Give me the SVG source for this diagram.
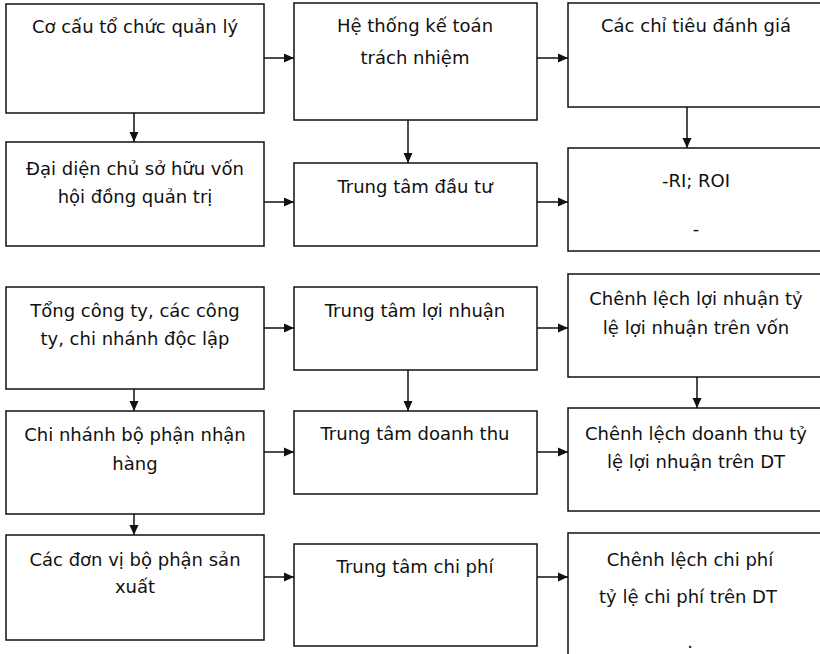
<svg xmlns="http://www.w3.org/2000/svg" width="820" height="654" viewBox="0 0 820 654">
<defs>
<style>
.box{fill:#fff;stroke:#111;stroke-width:1.5}
.t{font-family:"DejaVu Sans","Noto Sans",sans-serif;font-size:18px;fill:#111;text-anchor:middle}
.c{stroke:#111;stroke-width:1.5;fill:none;marker-end:url(#ah)}
</style>
<marker id="ah" markerUnits="userSpaceOnUse" markerWidth="10" markerHeight="10" viewBox="0 0 10 10" refX="10" refY="5" orient="auto">
<path d="M0,0.5 L10,5 L0,9.5 Z" fill="#111"/>
</marker>
</defs>
<rect width="820" height="654" fill="#fff"/>
<g id="connectors">
<line class="c" x1="264" y1="58" x2="294" y2="58"/>
<line class="c" x1="537" y1="58" x2="568" y2="58"/>
<line class="c" x1="264" y1="202" x2="294" y2="202"/>
<line class="c" x1="537" y1="202" x2="568" y2="202"/>
<line class="c" x1="264" y1="328" x2="294" y2="328"/>
<line class="c" x1="537" y1="328" x2="568" y2="328"/>
<line class="c" x1="264" y1="452" x2="294" y2="452"/>
<line class="c" x1="537" y1="452" x2="568" y2="452"/>
<line class="c" x1="264" y1="577" x2="294" y2="577"/>
<line class="c" x1="537" y1="577" x2="568" y2="577"/>
<line class="c" x1="134" y1="100" x2="134" y2="142"/>
<line class="c" x1="408" y1="120" x2="408" y2="163"/>
<line class="c" x1="687" y1="102" x2="687" y2="148"/>
<line class="c" x1="134" y1="370" x2="134" y2="411"/>
<line class="c" x1="134" y1="493" x2="134" y2="535"/>
<line class="c" x1="408" y1="370" x2="408" y2="411"/>
<line class="c" x1="697" y1="369" x2="697" y2="408"/>
</g>
<g id="n1"><rect class="box" x="6" y="4" width="258" height="109"/>
<text class="t" x="135" y="33">Cơ cấu tổ chức quản lý</text></g>
<g id="n2"><rect class="box" x="294" y="3" width="243" height="117"/>
<text class="t" x="415" y="32">Hệ thống kế toán</text>
<text class="t" x="415" y="64">trách nhiệm</text></g>
<g id="n3"><rect class="box" x="568" y="3" width="260" height="104"/>
<text class="t" x="696" y="32">Các chỉ tiêu đánh giá</text></g>
<g id="n4"><rect class="box" x="6" y="142" width="258" height="104"/>
<text class="t" x="135" y="175">Đại diện chủ sở hữu vốn</text>
<text class="t" x="135" y="203">hội đồng quản trị</text></g>
<g id="n5"><rect class="box" x="294" y="163" width="243" height="83"/>
<text class="t" x="415" y="193">Trung tâm đầu tư</text></g>
<g id="n6"><rect class="box" x="568" y="148" width="260" height="103"/>
<text class="t" x="696" y="187">-RI; ROI</text>
<text class="t" x="696" y="235">-</text></g>
<g id="n7"><rect class="box" x="6" y="287" width="258" height="102"/>
<text class="t" x="135" y="317">Tổng công ty, các công</text>
<text class="t" x="135" y="345">ty, chi nhánh độc lập</text></g>
<g id="n8"><rect class="box" x="294" y="287" width="243" height="83"/>
<text class="t" x="415" y="317">Trung tâm lợi nhuận</text></g>
<g id="n9"><rect class="box" x="568" y="274" width="260" height="103"/>
<text class="t" x="696" y="305">Chênh lệch lợi nhuận tỷ</text>
<text class="t" x="696" y="334">lệ lợi nhuận trên vốn</text></g>
<g id="n10"><rect class="box" x="6" y="411" width="258" height="103"/>
<text class="t" x="135" y="441">Chi nhánh bộ phận nhận</text>
<text class="t" x="135" y="470">hàng</text></g>
<g id="n11"><rect class="box" x="294" y="411" width="243" height="83"/>
<text class="t" x="415" y="440">Trung tâm doanh thu</text></g>
<g id="n12"><rect class="box" x="568" y="408" width="260" height="103"/>
<text class="t" x="696" y="440">Chênh lệch doanh thu tỷ</text>
<text class="t" x="696" y="468">lệ lợi nhuận trên DT</text></g>
<g id="n13"><rect class="box" x="6" y="535" width="258" height="105"/>
<text class="t" x="135" y="566">Các đơn vị bộ phận sản</text>
<text class="t" x="135" y="593">xuất</text></g>
<g id="n14"><rect class="box" x="294" y="544" width="243" height="102"/>
<text class="t" x="415" y="573">Trung tâm chi phí</text></g>
<g id="n15"><rect class="box" x="568" y="533" width="260" height="130"/>
<text class="t" x="690" y="566">Chênh lệch chi phí</text>
<text class="t" x="688" y="603">tỷ lệ chi phí trên DT</text>
<text class="t" x="690" y="648">.</text></g>
</svg>
